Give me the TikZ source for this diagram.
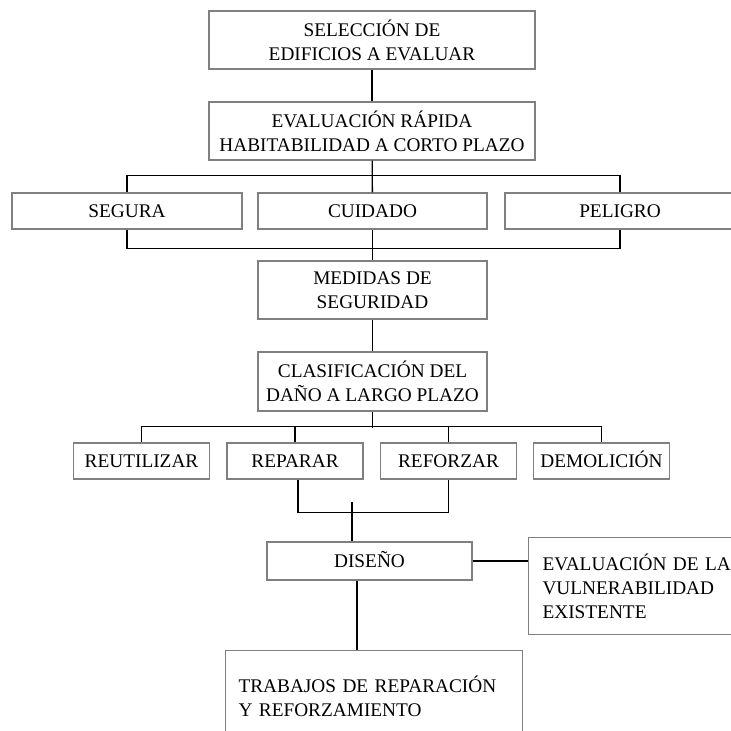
\documentclass[tikz,border=0pt]{standalone}
\usepackage{fontspec}
\setmainfont{Liberation Serif}
\begin{document}
\begin{tikzpicture}[
  x=1pt, y=-1pt,
  box/.style={rectangle, draw=gray, line width=1.1pt, inner sep=0pt, align=center, minimum height=58pt},
  single/.style={box, text height=12.8pt, text depth=0pt, minimum height=36pt},
  link/.style={black, line width=1.3pt},
  font=\fontsize{19.3}{24}\selectfont
]
\useasboundingbox (0,0) rectangle (731,731);

% Seleccion y evaluacion rapida
\node[box, minimum width=326pt] (sel) at (372,40) {SELECCIÓN DE\\EDIFICIOS A EVALUAR};
\node[box, minimum width=326pt, below of=sel, node distance=91pt] (rapida) {EVALUACIÓN RÁPIDA\\HABITABILIDAD A CORTO PLAZO};

% Habitabilidad
\node[single, minimum width=229pt] (cuidado) at (372.5,211) {CUIDADO};
\node[single, minimum width=230pt, left of=cuidado, node distance=245.5pt] (segura) {SEGURA};
\node[single, minimum width=230pt, right of=cuidado, node distance=247.5pt] (peligro) {PELIGRO};

% Medidas y clasificacion
\node[box, minimum width=229pt] (medidas) at (372.5,290) {MEDIDAS DE\\SEGURIDAD};
\node[box, minimum width=229pt, minimum height=59pt, below of=medidas, node distance=91.5pt] (clasif) {CLASIFICACIÓN DEL\\DAÑO A LARGO PLAZO};

% Tipo de intervencion
\node[single, minimum width=136pt] (reutilizar) at (141.5,461) {REUTILIZAR};
\node[single, minimum width=136pt, right of=reutilizar, node distance=153.5pt] (reparar) {REPARAR};
\node[single, minimum width=136pt, right of=reparar, node distance=153.5pt] (reforzar) {REFORZAR};
\node[single, minimum width=136pt, right of=reforzar, node distance=153pt] (demolicion) {DEMOLICIÓN};

% Diseno
\node[single, minimum width=205pt, minimum height=38pt] (diseno) at (369.5,561) {DISEÑO};
\node[box, anchor=north west, text width=205pt, inner xsep=14pt, minimum height=97pt, align=left] (vulner) at (528,537) {EVALUACIÓN DE LA\\VULNERABILIDAD\\EXISTENTE};
\node[box, anchor=north west, text width=271pt, inner xsep=13pt, minimum height=92pt, align=left] (trabajos) at (225,650) {TRABAJOS DE REPARACIÓN\\Y REFORZAMIENTO};
\coordinate (join) at (352,502);
\coordinate (drop) at (357,0);

% Connections
\draw[link] (sel) -- (rapida);
\draw[link] (rapida) -- (cuidado);
\draw[link] (segura.north) -- ++(0,-17) -| (peligro.north);
\draw[link] (segura.south) -- ++(0,19) -| (peligro.south);
\draw[link] (cuidado) -- (medidas);
\draw[link] (medidas) -- (clasif);
\draw[link] (clasif.south) -- ++(0,16);
\draw[link] (reutilizar.north) -- ++(0,-16) -| (demolicion.north);
\draw[link] (reparar.north) -- ++(0,-16);
\draw[link] (reforzar.north) -- ++(0,-16);
\draw[link] ([xshift=3pt]reparar.south) -- ++(0,33) -| (reforzar.south);
\draw[link] (join) -- (join |- diseno.north);
\draw[link] (diseno.east) -- (diseno.east -| vulner.west);
\draw[link] (diseno.south -| drop) -- (trabajos.north -| drop);
\end{tikzpicture}
\end{document}
